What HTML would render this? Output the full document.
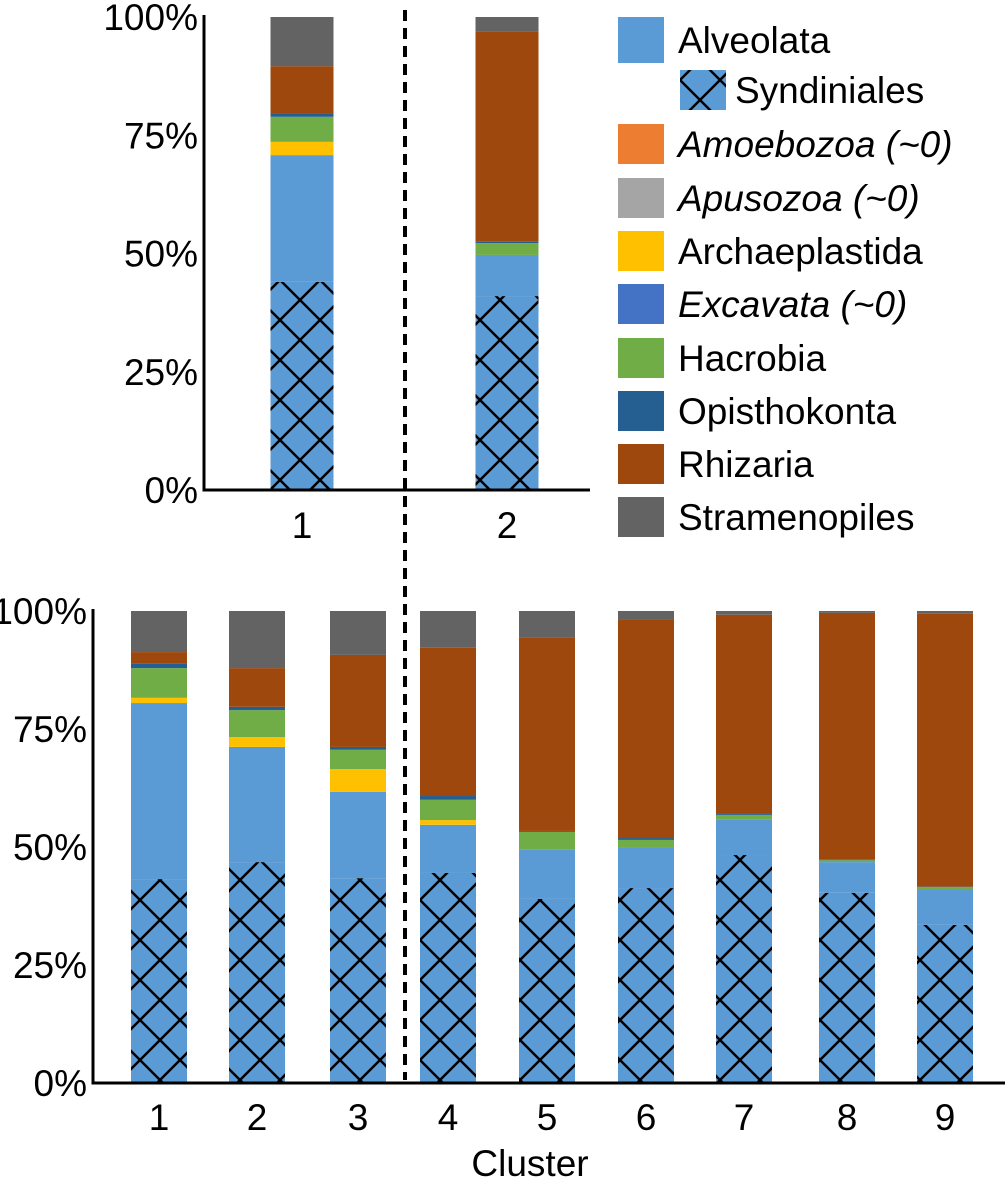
<!DOCTYPE html>
<html><head><meta charset="utf-8"><style>
body{margin:0;background:#fff}
svg{display:block;font-family:"Liberation Sans",Arial,sans-serif}
</style></head><body>
<svg id="c" width="1007" height="1179">
<defs>
<pattern id="hatch" patternUnits="userSpaceOnUse" width="40" height="40">
<rect width="40" height="40" fill="#5B9BD5"/>
<path d="M0,0L40,40M40,0L0,40M-2,38L2,42M38,-2L42,2" stroke="#000" stroke-width="2.5"/>
</pattern>
</defs>
</svg>
<script>
const categories=["Syndiniales","Alveolata","Archaeplastida","Hacrobia","Opisthokonta","Rhizaria","Stramenopiles"];
const colors=["url(#hatch)","#5B9BD5","#FFC000","#70AD47","#255E91","#9E480E","#636363"];
const topClusters=["1","2"];
const topSyndiniales=[0.44,0.41];
const topAlveolata=[0.268,0.087];
const topArchaeplastida=[0.028,0];
const topHacrobia=[0.053,0.025];
const topOpisthokonta=[0.006,0.003];
const topRhizaria=[0.101,0.445];
const topStramenopiles=[0.104,0.03];
const botClusters=["1","2","3","4","5","6","7","8","9"];
const botSyndiniales=[0.432,0.468,0.434,0.445,0.39,0.413,0.483,0.403,0.335];
const botAlveolata=[0.373,0.244,0.183,0.102,0.104,0.085,0.076,0.065,0.076];
const botArchaeplastida=[0.011,0.021,0.048,0.010,0,0,0,0,0];
const botHacrobia=[0.063,0.057,0.041,0.043,0.038,0.017,0.009,0.004,0.004];
const botOpisthokonta=[0.009,0.007,0.006,0.008,0.002,0.004,0.002,0.001,0.001];
const botRhizaria=[0.025,0.082,0.195,0.314,0.409,0.462,0.422,0.523,0.578];
const botStramenopiles=[0.087,0.121,0.093,0.078,0.057,0.019,0.008,0.004,0.006];
const yTicks=["0%","25%","50%","75%","100%"];
const legendLabels=["Alveolata","Syndiniales","Amoebozoa (~0)","Apusozoa (~0)","Archaeplastida","Excavata (~0)","Hacrobia","Opisthokonta","Rhizaria","Stramenopiles"];
const legendColors=["#5B9BD5","url(#hatch)","#ED7D31","#A5A5A5","#FFC000","#4472C4","#70AD47","#255E91","#9E480E","#636363"];
const svg=document.getElementById('c');
const NS="http://www.w3.org/2000/svg";
const FS=37;
function mk(t,a,p){const e=document.createElementNS(NS,t);for(const k in a)e.setAttribute(k,a[k]);(p||svg).appendChild(e);return e;}
function panel(name,series,clusters,axX,y0,h,xEnd,centers,bw,labY){
  const g=mk('g',{});
  
  
  const y=v=>y0-v*h;
  clusters.forEach((c,i)=>{
    let cum=0;
    series.forEach((s,k)=>{
      const v=s[i];if(v<=0)return;
      const r=mk('rect',{x:centers[i]-bw/2,y:y(Math.min(1,cum+v)),width:bw,height:Math.min(v,1-cum)*h,fill:colors[k]},g);
      
      
      cum+=v;
    });
    const t=mk('text',{x:centers[i],y:labY,'text-anchor':'middle','font-size':FS},g);
    
    
    t.textContent=c;
  });
  yTicks.forEach((l,i)=>{
    const t=mk('text',{x:axX-6,y:y(i/4)+13,'text-anchor':'end','font-size':FS},g);
    
    
    t.textContent=l;
  });
  const ya=mk('line',{x1:axX,y1:y(1)-2,x2:axX,y2:y0+1.5,stroke:'#000','stroke-width':3},g);
  
  
  const xa=mk('line',{x1:axX-1.5,y1:y0,x2:xEnd,y2:y0,stroke:'#000','stroke-width':3},g);
  
  
}
panel('top-chart',[topSyndiniales,topAlveolata,topArchaeplastida,topHacrobia,topOpisthokonta,topRhizaria,topStramenopiles],topClusters,204,490,473,590,[302,507],63,538);
panel('bottom-chart',[botSyndiniales,botAlveolata,botArchaeplastida,botHacrobia,botOpisthokonta,botRhizaria,botStramenopiles],botClusters,93,1083,472,1005,[159,257,358,448,547,646,744,847,945],56,1130);
const xt=mk('text',{x:530,y:1176,'text-anchor':'middle','font-size':FS});


xt.textContent='Cluster';
const dl=mk('line',{x1:405,y1:10,x2:405,y2:1080,stroke:'#000','stroke-width':4,'stroke-dasharray':'11,7'});


const lys=[17,70,124,178,231,284,338,391,444,497];
legendLabels.forEach((l,i)=>{
  const sx=i==1?680:618;
  const sw=mk('rect',{x:sx,y:lys[i],width:46,height:i==0?46:40,fill:legendColors[i]});
  
  
  const t=mk('text',{x:sx+(i==1?55:60),y:lys[i]+(i==0?36:33),'font-size':FS});
  if(l.indexOf('~0')>=0)t.setAttribute('font-style','italic');
  
  
  t.textContent=l;
});
</script>
</body></html>
